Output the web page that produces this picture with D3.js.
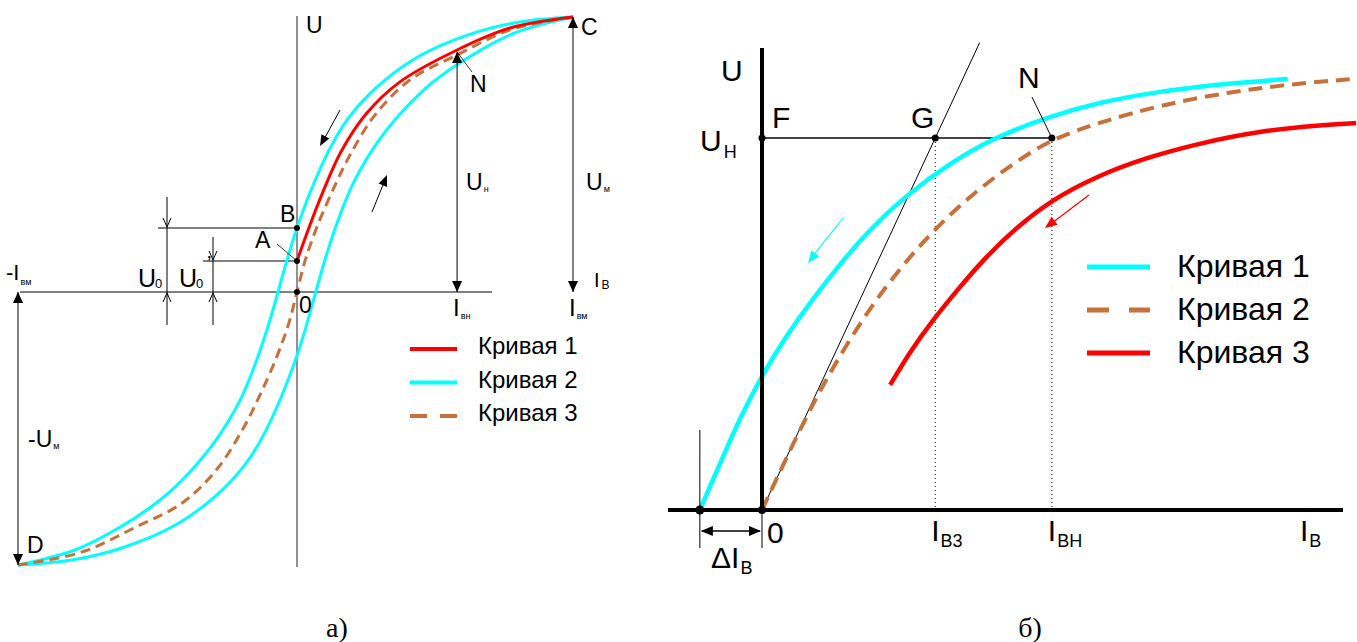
<!DOCTYPE html>
<html><head><meta charset="utf-8">
<script src="https://cdn.jsdelivr.net/npm/d3@7"></script>
<style>
body{margin:0;background:#fff}
svg text{font-family:"Liberation Sans",Arial,sans-serif;fill:#000}
</style>
</head><body>
<svg id="c" width="1357" height="642"></svg>
<script>
// ---------------- DATA ----------------
const seriesNamesA = ["Кривая 1", "Кривая 2", "Кривая 3"];
const seriesNamesB = ["Кривая 1", "Кривая 2", "Кривая 3"];
const colorRed = "#ff0000", colorCyan = "#00ffff", colorBrown = "#c8703a";

// Panel a) — I and U in % of maximum
const aCyanDown = [[100,100],[80.8,98.2],[62.0,93.5],[43.1,85.1],[28.6,74.2],[18.1,62.5],[11.6,51.6],[5.1,37.1],[0,23.3],[-3.6,11.6],[-6.8,0],[-10.8,-13.9],[-15.8,-28.6],[-20.4,-39.6],[-29.0,-54.2],[-38.4,-65.9],[-49.1,-76.2],[-63.4,-86.1],[-79.6,-94.5],[-100,-100]];
const aCyanUp = [[-100,-100],[-80.8,-98.2],[-62.0,-93.5],[-43.1,-85.1],[-28.6,-74.2],[-18.1,-62.5],[-11.6,-51.6],[-5.1,-37.1],[0,-23.3],[3.6,-11.6],[6.8,0],[10.8,13.9],[15.8,28.6],[20.4,39.6],[29.0,54.2],[38.4,65.9],[49.1,76.2],[63.4,86.1],[79.6,94.5],[100,100]];
const aDashed = [[-100,-100],[-77.2,-95.3],[-58,-86.2],[-40.9,-77.1],[-28.3,-64.4],[-19.2,-49.8],[-13,-37.1],[-7.2,-23.6],[-2.9,-11.3],[0,0],[2.9,11.3],[7.2,23.6],[13,37.1],[19.2,49.8],[28.3,64.4],[40.9,77.1],[58,86.2],[77.2,95.3],[100,100]];
const aRed = [[0,11.3],[4.3,23.3],[9.4,36.4],[15.9,50.9],[25.0,64.7],[37.3,76.4],[58.0,88.0],[77.2,96.0],[100,100]];
const aPointB = [0, 23.3], aPointA = [0, 11.3], aPointN = [58, 87.3];
const aIvm = 100, aUm = 100, aIvn = 58;

// Panel б) — I and U in relative units
const bCurve1 = [[-11.3,0],[-7.6,10.1],[-4.0,19.8],[0,29.0],[4.4,37.4],[9.1,45.2],[14.2,52.9],[19.6,60.4],[26.0,67.5],[34.2,74.6],[42.0,80.0],[52.4,84.7],[61.5,87.7],[71.5,89.9],[83.3,91.6],[95.6,92.7]];
const bCurve2 = [[0,0],[5.1,12.9],[9.6,23.7],[14.2,33.3],[19.6,43.4],[25.1,52.0],[31.5,60.6],[38.7,68.4],[46.0,74.8],[52.7,79.8],[61.5,83.4],[72.4,87.1],[85.1,89.9],[96.2,91.6],[107.6,92.7]];
const bCurve3 = [[23.3,26.9],[26.9,34.0],[30.9,40.6],[35.5,47.3],[40.5,54.2],[46.4,60.9],[52.7,66.7],[60.5,71.6],[69.6,75.7],[79.6,78.9],[90.5,81.5],[101.5,82.8],[108.0,83.2]];
const bUH = 80, bIB3 = 31.5, bIBH = 52.7, bDeltaI = -11.3, bTangentTopU = 100.5;

// ---------------- DRAW ----------------
const svg = d3.select("#c");

function arrowHead(g, x, y, dx, dy, len, half, color) {
  const L = Math.hypot(dx, dy), ux = dx / L, uy = dy / L;
  const bx = x - ux * len, by = y - uy * len;
  g.append("path")
    .attr("d", `M${x},${y}L${bx - uy * half},${by + ux * half}L${bx + uy * half},${by - ux * half}Z`)
    .attr("fill", color || "#000");
}
function chevron(g, x, y, dir) {
  g.append("path").attr("d", `M${x - 4},${y - dir * 9}L${x},${y}L${x + 4},${y - dir * 9}`)
    .attr("fill", "none").attr("stroke", "#000").attr("stroke-width", 1);
}
function sublabel(g, x, y, main, sub, size, subSize, subDy, extra) {
  const t = g.append("text").attr("x", x).attr("y", y).attr("font-size", size).text(main);
  const w = t.node().getComputedTextLength();
  g.append("text").attr("x", x + w + (extra || 0)).attr("y", y + subDy).attr("font-size", subSize).text(sub);
}

// ===== Panel a =====
const xA = d3.scaleLinear().domain([-100, 0, 100]).range([18, 297, 573]);
const yA = d3.scaleLinear().domain([-100, 0, 100]).range([565, 292, 17]);
const ga = svg.append("g");
const lineA = d3.line().x(d => xA(d[0])).y(d => yA(d[1])).curve(d3.curveCatmullRom.alpha(0.5));

ga.append("line").attr("x1", 20).attr("x2", 492).attr("y1", yA(0)).attr("y2", yA(0)).attr("stroke", "#808080").attr("stroke-width", 2);
ga.append("line").attr("x1", xA(0)).attr("x2", xA(0)).attr("y1", 16).attr("y2", 567).attr("stroke", "#222").attr("stroke-width", 1);

ga.append("line").attr("x1", 158).attr("x2", xA(0)).attr("y1", yA(aPointB[1])).attr("y2", yA(aPointB[1])).attr("stroke", "#808080").attr("stroke-width", 2);
ga.append("line").attr("x1", 203).attr("x2", xA(0)).attr("y1", yA(aPointA[1])).attr("y2", yA(aPointA[1])).attr("stroke", "#808080").attr("stroke-width", 2);
ga.append("line").attr("x1", 167).attr("x2", 167).attr("y1", 197).attr("y2", 325).attr("stroke", "#000").attr("stroke-width", 1);
ga.append("line").attr("x1", 213).attr("x2", 213).attr("y1", 237).attr("y2", 325).attr("stroke", "#000").attr("stroke-width", 1);
chevron(ga, 167, yA(aPointB[1]) - 1, 1); chevron(ga, 167, yA(0) + 1, -1);
chevron(ga, 213, yA(aPointA[1]) - 1, 1); chevron(ga, 213, yA(0) + 1, -1);

ga.append("path").attr("d", lineA(aCyanDown)).attr("fill", "none").attr("stroke", colorCyan).attr("stroke-width", 3);
ga.append("path").attr("d", lineA(aCyanUp)).attr("fill", "none").attr("stroke", colorCyan).attr("stroke-width", 3);
ga.append("path").attr("d", lineA(aDashed)).attr("fill", "none").attr("stroke", colorBrown).attr("stroke-width", 3).attr("stroke-dasharray", "10,6");
ga.append("path").attr("d", lineA(aRed)).attr("fill", "none").attr("stroke", colorRed).attr("stroke-width", 3);

function dimV(g, x, y1, y2) {
  g.append("line").attr("x1", x).attr("x2", x).attr("y1", y1).attr("y2", y2).attr("stroke", "#000").attr("stroke-width", 1);
  arrowHead(g, x, y1, 0, -1, 11, 5); arrowHead(g, x, y2, 0, 1, 11, 5);
}
dimV(ga, xA(aIvn), yA(aPointN[1]), yA(0));
dimV(ga, xA(aIvm), yA(aUm), yA(0));
dimV(ga, xA(-aIvm), yA(0), yA(-aUm));

ga.append("line").attr("x1", 340).attr("y1", 110).attr("x2", 322).attr("y2", 143).attr("stroke", "#000");
arrowHead(ga, 320, 146, -20, 36, 11, 4.5);
ga.append("line").attr("x1", 372).attr("y1", 212).attr("x2", 385).attr("y2", 180).attr("stroke", "#000");
arrowHead(ga, 387, 175, 15, -37, 11, 4.5);

ga.append("line").attr("x1", 277).attr("y1", 244).attr("x2", xA(0)).attr("y2", yA(aPointA[1])).attr("stroke", "#000").attr("stroke-width", 0.8);
ga.append("line").attr("x1", 472).attr("y1", 72).attr("x2", xA(aPointN[0])).attr("y2", yA(aPointN[1])).attr("stroke", "#000").attr("stroke-width", 0.8);

[aPointB, aPointA, [0, 0]].forEach(p => ga.append("circle").attr("cx", xA(p[0])).attr("cy", yA(p[1])).attr("r", 3).attr("fill", "#000"));

const fa = 23;
ga.append("text").attr("x", 306).attr("y", 33).attr("font-size", fa).text("U");
ga.append("text").attr("x", xA(aIvm) + 8).attr("y", 35).attr("font-size", fa).text("C");
ga.append("text").attr("x", 470).attr("y", 92).attr("font-size", fa).text("N");
ga.append("text").attr("x", 280).attr("y", 222).attr("font-size", fa).text("B");
ga.append("text").attr("x", 255).attr("y", 248).attr("font-size", fa).text("A");
ga.append("text").attr("x", 299).attr("y", 313).attr("font-size", fa).text("0");
ga.append("text").attr("x", 27).attr("y", 553).attr("font-size", fa).text("D");
sublabel(ga, xA(aIvn) + 9, 190, "U", "н", fa, 9, 2, 1);
sublabel(ga, xA(aIvm) + 13, 190, "U", "м", fa, 9, 2, 1);
sublabel(ga, 28, 447, "-U", "м", fa, 9, 2, 1);
sublabel(ga, 594, 287, "I", "В", 20, 12, 2, 2);
sublabel(ga, xA(aIvn) - 4, 316, "I", "вн", 24, 9, 3, 1);
sublabel(ga, xA(aIvm) - 4, 316, "I", "вм", 24, 9, 3, 1);
sublabel(ga, 6, 280, "-I", "вм", 22, 9, 5, 1);
sublabel(ga, 138, 287, "U", "0", 25, 13, 1, -1);
sublabel(ga, 179, 287, "U", "0", 25, 13, 1, -1);
ga.append("text").attr("x", 207).attr("y", 270).attr("font-size", 20).text("’");

const legA = [{stroke: colorRed, dash: null}, {stroke: colorCyan, dash: null}, {stroke: colorBrown, dash: "17,13"}];
const legAy = d3.scalePoint().domain(seriesNamesA).range([349, 416]);
seriesNamesA.forEach((n, i) => {
  ga.append("line").attr("x1", 410).attr("x2", 457).attr("y1", legAy(n)).attr("y2", legAy(n))
    .attr("stroke", legA[i].stroke).attr("stroke-width", 4).attr("stroke-dasharray", legA[i].dash);
  ga.append("text").attr("x", 478).attr("y", legAy(n) + 5).attr("font-size", 24).text(n);
});
ga.append("text").attr("x", 337).attr("y", 637).attr("text-anchor", "middle").attr("font-size", 28)
  .style("font-family", "'Liberation Serif','Times New Roman',serif").text("а)");

// ===== Panel б =====
const xB = d3.scaleLinear().domain([0, 100]).range([762, 1312]);
const yB = d3.scaleLinear().domain([0, 100]).range([510, 45]);
const gb = svg.append("g");
const lineB = d3.line().x(d => xB(d[0])).y(d => yB(d[1])).curve(d3.curveBasis);

gb.append("line").attr("x1", xB(0)).attr("x2", xB(bIBH)).attr("y1", yB(bUH)).attr("y2", yB(bUH)).attr("stroke", "#444").attr("stroke-width", 2);
[bIB3, bIBH].forEach(v => gb.append("line").attr("x1", xB(v)).attr("x2", xB(v)).attr("y1", yB(bUH)).attr("y2", yB(0))
  .attr("stroke", "#000").attr("stroke-width", 1).attr("stroke-dasharray", "1,3"));
const slope = bUH / bIB3;
gb.append("line").attr("x1", xB(0)).attr("y1", yB(0)).attr("x2", xB(bTangentTopU / slope)).attr("y2", yB(bTangentTopU))
  .attr("stroke", "#000").attr("stroke-width", 1);

gb.append("path").attr("d", lineB(bCurve1)).attr("fill", "none").attr("stroke", colorCyan).attr("stroke-width", 4.5);
gb.append("path").attr("d", lineB(bCurve2)).attr("fill", "none").attr("stroke", colorBrown).attr("stroke-width", 4).attr("stroke-dasharray", "14,8");
gb.append("path").attr("d", lineB(bCurve3)).attr("fill", "none").attr("stroke", colorRed).attr("stroke-width", 4.5);

gb.append("line").attr("x1", 668).attr("x2", 1343).attr("y1", yB(0)).attr("y2", yB(0)).attr("stroke", "#000").attr("stroke-width", 4);
gb.append("line").attr("x1", xB(0)).attr("x2", xB(0)).attr("y1", 48).attr("y2", yB(0) + 2).attr("stroke", "#000").attr("stroke-width", 4);

gb.append("line").attr("x1", xB(bDeltaI)).attr("x2", xB(bDeltaI)).attr("y1", 430).attr("y2", 548).attr("stroke", "#000").attr("stroke-width", 1);
gb.append("line").attr("x1", xB(0)).attr("x2", xB(0)).attr("y1", yB(0)).attr("y2", 548).attr("stroke", "#000").attr("stroke-width", 1);
gb.append("line").attr("x1", xB(bDeltaI) + 2).attr("x2", xB(0) - 2).attr("y1", 531).attr("y2", 531).attr("stroke", "#000").attr("stroke-width", 1.5);
arrowHead(gb, xB(bDeltaI) + 1, 531, -1, 0, 12, 5);
arrowHead(gb, xB(0) - 1, 531, 1, 0, 12, 5);
gb.append("circle").attr("cx", xB(bDeltaI)).attr("cy", yB(0)).attr("r", 4.5).attr("fill", "#000");
gb.append("circle").attr("cx", xB(0)).attr("cy", yB(0)).attr("r", 4).attr("fill", "#000");

gb.append("line").attr("x1", 843).attr("y1", 218).attr("x2", 812).attr("y2", 257).attr("stroke", colorCyan).attr("stroke-width", 1.2);
arrowHead(gb, 808, 263, -31, 40, 12, 5, colorCyan);
gb.append("line").attr("x1", 1089).attr("y1", 195).attr("x2", 1052).attr("y2", 223).attr("stroke", colorRed).attr("stroke-width", 1.2);
arrowHead(gb, 1045, 228, -37, 28, 12, 5, colorRed);

gb.append("line").attr("x1", 1032).attr("y1", 97).attr("x2", xB(bIBH)).attr("y2", yB(bUH)).attr("stroke", "#000").attr("stroke-width", 1);
[[0, bUH], [bIB3, bUH], [bIBH, bUH]].forEach(p => gb.append("circle").attr("cx", xB(p[0])).attr("cy", yB(p[1])).attr("r", 3.5).attr("fill", "#000"));

const fb = 30;
gb.append("text").attr("x", 721).attr("y", 81).attr("font-size", fb).text("U");
gb.append("text").attr("x", 772).attr("y", 128).attr("font-size", fb).text("F");
gb.append("text").attr("x", 911).attr("y", 128).attr("font-size", fb).text("G");
gb.append("text").attr("x", 1018).attr("y", 88).attr("font-size", fb).text("N");
gb.append("text").attr("x", 767).attr("y", 543).attr("font-size", fb).text("0");
sublabel(gb, 700, 151, "U", "Н", fb, 18, 7, 2);
sublabel(gb, xB(bIB3) - 4, 541, "I", "В3", fb, 18, 6, 1);
sublabel(gb, xB(bIBH) - 4, 541, "I", "ВН", fb, 18, 6, 1);
sublabel(gb, 1300, 541, "I", "В", fb, 18, 6, 1);
sublabel(gb, 711, 568, "ΔI", "В", fb, 18, 6, 1);

const legB = [{stroke: colorCyan, dash: null}, {stroke: colorBrown, dash: "22,20"}, {stroke: colorRed, dash: null}];
const legBy = d3.scalePoint().domain(seriesNamesB).range([267, 353]);
seriesNamesB.forEach((n, i) => {
  gb.append("line").attr("x1", 1087).attr("x2", 1150).attr("y1", legBy(n)).attr("y2", legBy(n))
    .attr("stroke", legB[i].stroke).attr("stroke-width", 5).attr("stroke-dasharray", legB[i].dash);
  gb.append("text").attr("x", 1177).attr("y", legBy(n) + 10).attr("font-size", 32).text(n);
});
gb.append("text").attr("x", 1030).attr("y", 637).attr("text-anchor", "middle").attr("font-size", 28)
  .style("font-family", "'Liberation Serif','Times New Roman',serif").text("б)");
</script>
</body></html>
